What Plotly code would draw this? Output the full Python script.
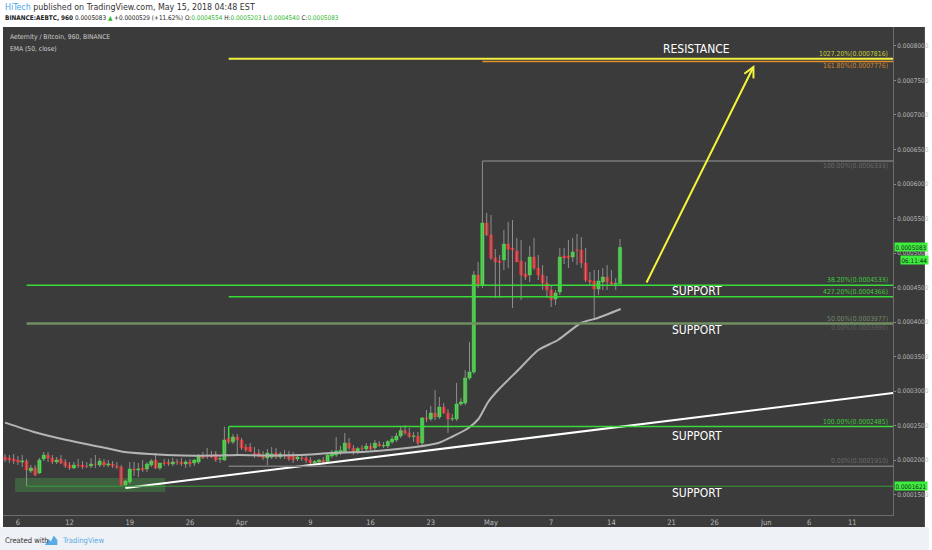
import plotly.graph_objects as go
import pandas as pd

# ---------------- data ----------------
bar_times = pd.date_range('2018-03-04 12:00', periods=144, freq='12h')

opens = [0.0002044,0.0002030,0.0002015,0.0002001,0.0001972,0.0001986,0.0001842,0.0001885,0.0001813,0.0002015,
         0.0002073,0.0002030,0.0001972,0.0002015,0.0001972,0.0001928,0.0001885,0.0001928,0.0001928,0.0001914,
         0.0001914,0.0001943,0.0001928,0.0001972,0.0001928,0.0001943,0.0001914,0.0001899,0.0001639,0.0001682,
         0.0001870,0.0001856,0.0001885,0.0001870,0.0001928,0.0002001,0.0001885,0.0001957,0.0001972,0.0001943,
         0.0001972,0.0001972,0.0001943,0.0001972,0.0001957,0.0001972,0.0002059,0.0002059,0.0002073,0.0002088,
         0.0002015,0.0002001,0.0002320,0.0002262,0.0002334,0.0002291,0.0002189,0.0002189,0.0002102,0.0002102,
         0.0002073,0.0002030,0.0002044,0.0002102,0.0002044,0.0002073,0.0002073,0.0002059,0.0002015,0.0002030,
         0.0002030,0.0002001,0.0001957,0.0001972,0.0002001,0.0001979,0.0002059,0.0002073,0.0002102,0.0002124,
         0.0002247,0.0002175,0.0002117,0.0002175,0.0002160,0.0002204,0.0002175,0.0002233,0.0002204,0.0002204,
         0.0002262,0.0002291,0.0002349,0.0002428,0.0002392,0.0002342,0.0002349,0.0002247,0.0002610,0.0002595,
         0.0002682,0.0002624,0.0002769,0.0002682,0.0002595,0.0002595,0.0002813,0.0002827,0.0003189,0.0003276,
         0.0004682,0.0004537,0.0005435,0.0005261,0.0004928,0.0004885,0.0004899,0.0005131,0.0005073,0.0005030,
         0.0004885,0.0004696,0.0004682,0.0004943,0.0004783,0.0004682,0.0004566,0.0004464,0.0004334,0.0004435,
         0.0004957,0.0004957,0.0004942,0.0005044,0.0005044,0.0004855,0.0004609,0.0004595,0.0004479,0.0004580,
         0.0004653,0.0004580,0.0004551,0.0004554]
highs = [0.0002088,0.0002073,0.0002088,0.0002059,0.0002073,0.0002015,0.0001928,0.0001928,0.0002030,0.0002117,
         0.0002117,0.0002073,0.0002044,0.0002073,0.0002015,0.0001972,0.0001972,0.0002015,0.0001986,0.0001972,
         0.0002030,0.0002073,0.0002030,0.0002015,0.0002001,0.0001986,0.0001972,0.0001928,0.0001711,0.0001972,
         0.0001972,0.0001957,0.0002001,0.0001972,0.0002015,0.0002102,0.0001957,0.0002015,0.0002015,0.0002030,
         0.0002015,0.0002030,0.0002001,0.0002015,0.0002015,0.0002088,0.0002117,0.0002175,0.0002131,0.0002131,
         0.0002059,0.0002485,0.0002392,0.0002378,0.0002378,0.0002320,0.0002233,0.0002247,0.0002189,0.0002160,
         0.0002131,0.0002160,0.0002189,0.0002175,0.0002117,0.0002146,0.0002131,0.0002117,0.0002073,0.0002073,
         0.0002073,0.0002044,0.0002001,0.0002015,0.0002044,0.0002102,0.0002146,0.0002334,0.0002204,0.0002392,
         0.0002320,0.0002218,0.0002189,0.0002218,0.0002247,0.0002247,0.0002291,0.0002276,0.0002262,0.0002291,
         0.0002349,0.0002392,0.0002479,0.0002508,0.0002465,0.0002407,0.0002407,0.0002624,0.0002726,0.0002784,
         0.0003015,0.0002914,0.0002827,0.0002740,0.0002668,0.0003117,0.0002899,0.0003305,0.0003711,0.0004740,
         0.0004870,0.0006333,0.0005580,0.0005551,0.0005058,0.0004971,0.0005334,0.0005450,0.0005479,0.0005218,
         0.0005189,0.0004870,0.0005102,0.0005218,0.0004971,0.0004826,0.0004667,0.0004537,0.0004464,0.0005073,
         0.0005073,0.0005189,0.0005218,0.0005276,0.0005232,0.0005073,0.0004725,0.0004754,0.0004754,0.0004783,
         0.0004826,0.0004754,0.0004638,0.0005203]
lows = [0.0001972,0.0001957,0.0001943,0.0001928,0.0001899,0.0001621,0.0001813,0.0001769,0.0001798,0.0001986,
        0.0001972,0.0001943,0.0001943,0.0001943,0.0001885,0.0001856,0.0001870,0.0001885,0.0001870,0.0001885,
        0.0001885,0.0001885,0.0001899,0.0001899,0.0001899,0.0001885,0.0001870,0.0001625,0.0001596,0.0001653,
        0.0001769,0.0001755,0.0001827,0.0001827,0.0001899,0.0001870,0.0001856,0.0001914,0.0001914,0.0001914,
        0.0001928,0.0001914,0.0001885,0.0001899,0.0001914,0.0001943,0.0002015,0.0002015,0.0002030,0.0001972,
        0.0001957,0.0001986,0.0002233,0.0002233,0.0002059,0.0002146,0.0002117,0.0002117,0.0002030,0.0002044,
        0.0002001,0.0001928,0.0002015,0.0002015,0.0002015,0.0002015,0.0001986,0.0001957,0.0001986,0.0001986,
        0.0001957,0.0001928,0.0001928,0.0001943,0.0001957,0.0001957,0.0002030,0.0002044,0.0002073,0.0002102,
        0.0002146,0.0002073,0.0002088,0.0002131,0.0002131,0.0002146,0.0002146,0.0002189,0.0002175,0.0002175,
        0.0002233,0.0002262,0.0002320,0.0002364,0.0002320,0.0002262,0.0002218,0.0002218,0.0002552,0.0002566,
        0.0002581,0.0002595,0.0002668,0.0002392,0.0002566,0.0002566,0.0002784,0.0002798,0.0003160,0.0003247,
        0.0004493,0.0004493,0.0005247,0.0004899,0.0004348,0.0004348,0.0004754,0.0004783,0.0004203,0.0004870,
        0.0004319,0.0004609,0.0004580,0.0004754,0.0004609,0.0004464,0.0004348,0.0004218,0.0004247,0.0004392,
        0.0004841,0.0004783,0.0004870,0.0004826,0.0004783,0.0004580,0.0004537,0.0004059,0.0004393,0.0004464,
        0.0004464,0.0004522,0.0004464,0.0004540]
closes = [0.0002001,0.0002001,0.0001986,0.0001972,0.0001986,0.0001856,0.0001885,0.0001784,0.0002001,0.0002073,
          0.0002030,0.0001972,0.0002001,0.0001957,0.0001914,0.0001885,0.0001928,0.0001921,0.0001899,0.0001910,
          0.0001943,0.0001940,0.0001986,0.0001928,0.0001943,0.0001914,0.0001899,0.0001639,0.0001697,0.0001870,
          0.0001856,0.0001870,0.0001856,0.0001943,0.0001986,0.0001885,0.0001957,0.0001955,0.0001943,0.0001972,
          0.0001970,0.0001943,0.0001972,0.0001943,0.0002001,0.0002059,0.0002030,0.0002055,0.0002044,0.0002001,
          0.0002020,0.0002291,0.0002262,0.0002334,0.0002291,0.0002175,0.0002146,0.0002124,0.0002098,0.0002052,
          0.0002030,0.0002102,0.0002088,0.0002044,0.0002088,0.0002070,0.0002015,0.0002001,0.0002044,0.0002027,
          0.0001994,0.0001957,0.0001979,0.0002001,0.0001972,0.0002073,0.0002117,0.0002131,0.0002139,0.0002247,
          0.0002175,0.0002110,0.0002168,0.0002170,0.0002204,0.0002160,0.0002247,0.0002204,0.0002211,0.0002269,
          0.0002305,0.0002349,0.0002428,0.0002392,0.0002342,0.0002349,0.0002247,0.0002610,0.0002595,0.0002682,
          0.0002624,0.0002769,0.0002682,0.0002595,0.0002600,0.0002813,0.0002841,0.0003189,0.0003276,0.0004682,
          0.0004537,0.0005435,0.0005261,0.0004928,0.0004870,0.0004863,0.0005131,0.0005058,0.0005044,0.0004870,
          0.0004682,0.0004652,0.0004942,0.0004783,0.0004682,0.0004566,0.0004464,0.0004320,0.0004421,0.0004942,
          0.0004928,0.0004928,0.0005015,0.0005040,0.0004855,0.0004609,0.0004580,0.0004479,0.0004595,0.0004653,
          0.0004580,0.0004551,0.0004558,0.0005083]

ema_times = ['2018-03-04 12:00','2018-03-07 18:00','2018-03-11 16:00','2018-03-15 12:00','2018-03-18 04:00',
             '2018-03-21 07:00','2018-03-25 03:00','2018-03-29 01:00','2018-03-31 17:00','2018-04-04 05:00',
             '2018-04-07 16:00','2018-04-11 12:00','2018-04-15 10:00','2018-04-21 05:00','2018-04-23 21:00',
             '2018-04-25 10:00','2018-04-27 09:00','2018-04-28 13:00','2018-04-29 16:00','2018-04-30 20:00',
             '2018-05-03 04:00','2018-05-05 12:00','2018-05-07 19:00','2018-05-10 11:00','2018-05-12 10:00',
             '2018-05-15 02:00']
ema_values = [0.0002542,0.0002411,0.0002291,0.0002194,0.0002121,0.0002088,0.0002066,0.0002066,0.0002073,0.0002066,
              0.0002073,0.0002102,0.0002121,0.0002189,0.0002247,0.0002334,0.0002465,0.0002595,0.0002842,0.0003015,
              0.0003305,0.0003595,0.0003740,0.0003986,0.0004059,0.0004189]

price_ticks = [0.00015,0.0002,0.00025,0.0003,0.00035,0.0004,0.00045,0.0005,0.00055,0.0006,
               0.00065,0.0007,0.00075,0.0008]
date_ticks = ['2018-03-06','2018-03-12','2018-03-19','2018-03-26','2018-04-01','2018-04-09','2018-04-16',
              '2018-04-23','2018-04-30','2018-05-07','2018-05-14','2018-05-21','2018-05-26','2018-06-01',
              '2018-06-06','2018-06-11']
date_labels = ['6','12','19','26','Apr','9','16','23','May','7','14','21','26','Jun','6','11']

level_prices = [0.0007816,0.0007776,0.0006333,0.0004533,0.0004366,0.0003977,0.0002485,0.0001910,0.0001621]
level_starts = ['2018-03-30 12:00','2018-04-29 00:00','2018-04-29 00:00','2018-03-07 00:00','2018-03-30 12:00',
                '2018-03-07 00:00','2018-03-30 12:00','2018-03-30 12:00','2018-03-07 00:00']
level_labels = ['1027.20%(0.0007816)','161.80%(0.0007776)','100.00%(0.0006333)','38.20%(0.0004533)',
                '427.20%(0.0004366)','50.00%(0.0003977)','100.00%(0.0002485)','0.00%(0.0001910)','']
extra_label = '0.00%(0.0003890)'

trend_times = ['2018-03-18 12:00','2018-06-15 18:00']
trend_prices = [0.0001596,0.0002972]
arrow_times = ['2018-05-18 00:00','2018-05-30 15:00']
arrow_prices = [0.0004551,0.0007725]
zone_times = ['2018-03-05 16:00','2018-03-23 03:00']
zone_prices = [0.0001537,0.0001740]
region_labels = ['RESISTANCE','SUPPORT','SUPPORT','SUPPORT','SUPPORT']
region_prices = [0.0007956,0.0004450,0.0003885,0.0002349,0.0001523]
last_price = 0.0005083
countdown = '06:11:44'

# ---------------- styles ----------------
W, H = 932, 550
LM, RM, TM, BM = 3, 36, 27, 35
PW, PH = W - LM - RM, H - TM - BM
def px_x(px): return (px - LM) / PW
def px_y(py): return (H - BM - py) / PH

NARROW = "'Liberation Sans Narrow', 'DejaVu Sans Condensed', 'Liberation Sans', Arial, sans-serif"
DARK = '#3b3b3b'
UP, DOWN, WICK = '#3ce83c', '#e8262c', '#8e8e8e'
AXIS_TXT = '#b8b8b8'

level_colors = ['#f0f040','#e0902a','#7a7a7a','#38dc38','#38dc38','#6f8f62','#38dc38','#7a7a7a','#3a9c3a']
level_widths = [2, 1.5, 1.5, 1.5, 1.5, 2.5, 1.5, 1.5, 1]
label_colors = ['#c8cc3c','#d08a2c','#6a6a6a','#3cc83c','#3cc83c','#6f8a66','#3cc83c','#6a6a6a','#000']
label_shift = [5, -5, -5, 5, 5, 5, 5, 5, 0]

body_hi = [max(o, c) for o, c in zip(opens, closes)]
body_lo = [min(o, c) for o, c in zip(opens, closes)]

fig = go.Figure()
fig.add_trace(go.Ohlc(x=bar_times, open=opens, high=highs, low=lows, close=closes, tickwidth=0,
                      increasing=dict(line=dict(color=WICK, width=1)),
                      decreasing=dict(line=dict(color=WICK, width=1)),
                      showlegend=False, hoverinfo='skip'))
fig.add_trace(go.Candlestick(x=bar_times, open=opens, high=body_hi, low=body_lo, close=closes,
                             increasing=dict(line=dict(color=UP, width=0.5), fillcolor=UP),
                             decreasing=dict(line=dict(color=DOWN, width=0.5), fillcolor=DOWN),
                             whiskerwidth=0, showlegend=False, hoverinfo='skip'))
fig.add_trace(go.Scatter(x=ema_times, y=ema_values, mode='lines',
                         line=dict(color='#b4b4b4', width=2, shape='spline', smoothing=0.6),
                         showlegend=False, hoverinfo='skip'))
fig.add_trace(go.Scatter(x=trend_times, y=trend_prices, mode='lines', line=dict(color='#ffffff', width=2),
                         showlegend=False, hoverinfo='skip'))

shapes = []
shapes.append(dict(type='rect', xref='paper', yref='paper', x0=px_x(3), x1=px_x(928), y0=px_y(527), y1=px_y(27),
                   fillcolor=DARK, line=dict(width=0), layer='below'))
shapes.append(dict(type='rect', xref='paper', yref='paper', x0=px_x(0), x1=px_x(932), y0=px_y(550), y1=px_y(527),
                   fillcolor='#eef1f5', line=dict(width=0), layer='below'))
shapes.append(dict(type='rect', xref='x', yref='y', x0=zone_times[0], x1=zone_times[1], y0=zone_prices[0], y1=zone_prices[1],
                   fillcolor='rgba(70,160,70,0.38)', line=dict(width=0), layer='below'))
for p, s, c, w in zip(level_prices, level_starts, level_colors, level_widths):
    shapes.append(dict(type='line', xref='x', yref='y', x0=s, x1='2018-07-10', y0=p, y1=p,
                       line=dict(color=c, width=w), layer='above'))
shapes.append(dict(type='line', xref='x', yref='y', x0=level_starts[6], x1=level_starts[6], y0=level_prices[6], y1=0.0002320,
                   line=dict(color='#38dc38', width=1.5)))
lx = [45, 48.5, 51, 54, 57.5, 57.5, 45]
ly = [545, 539, 541.5, 535.5, 540, 545, 545]
path = 'M ' + ' L '.join(f'{px_x(a):.5f},{px_y(b):.5f}' for a, b in zip(lx, ly)) + ' Z'
shapes.append(dict(type='path', xref='paper', yref='paper', path=path, fillcolor='#5aaae6', line=dict(width=0)))

ann = []
for p, t, c, sh in zip(level_prices, level_labels, label_colors, label_shift):
    if t:
        ann.append(dict(xref='paper', yref='y', x=px_x(893), y=p, xanchor='right', yanchor='middle', yshift=sh,
                        text=t, showarrow=False, font=dict(family=NARROW, size=6.8, color=c)))
ann.append(dict(xref='paper', yref='y', x=px_x(893), y=level_prices[5], xanchor='right', yanchor='middle', yshift=-4,
                text=extra_label, showarrow=False, font=dict(family=NARROW, size=6.8, color='#5c5c5c')))
for t, p in zip(region_labels, region_prices):
    ann.append(dict(xref='paper', yref='y', x=px_x(699), y=p, xanchor='center', yanchor='middle', text=t,
                    showarrow=False, font=dict(family=NARROW, size=12, color='#ffffff')))
ann.append(dict(xref='x', yref='y', axref='x', ayref='y', x=arrow_times[1], y=arrow_prices[1],
                ax=arrow_times[0], ay=arrow_prices[0], text='', showarrow=True, arrowhead=5, arrowsize=1,
                arrowwidth=2, arrowcolor='#f5f53a'))
ann.append(dict(xref='paper', yref='y', x=px_x(897), y=last_price, xanchor='left', yanchor='middle',
                text=f'{last_price:.7f}', showarrow=False, bgcolor='#3ef03e', borderpad=0.5,
                font=dict(family=NARROW, size=6.3, color='#1a1a1a')))
ann.append(dict(xref='paper', yref='y', x=px_x(903), y=last_price, xanchor='left', yanchor='middle', yshift=-12.5,
                text=countdown, showarrow=False, bgcolor='#3ef03e', borderpad=0.5,
                font=dict(family=NARROW, size=6.3, color='#1a1a1a')))
ann.append(dict(xref='paper', yref='y', x=px_x(897), y=level_prices[8], xanchor='left', yanchor='middle',
                text=f'{level_prices[8]:.7f}', showarrow=False, bgcolor='#3ef03e', borderpad=0.5,
                font=dict(family=NARROW, size=6.3, color='#1a1a1a')))
ann.append(dict(xref='paper', yref='paper', x=px_x(8), y=px_y(37), xanchor='left', yanchor='middle',
                text='Aeternity / Bitcoin, 960, BINANCE', showarrow=False,
                font=dict(family=NARROW, size=6.7, color='#cfcfcf')))
ann.append(dict(xref='paper', yref='paper', x=px_x(8), y=px_y(49), xanchor='left', yanchor='middle',
                text='EMA (50, close)', showarrow=False, font=dict(family=NARROW, size=6.7, color='#cfcfcf')))
ann.append(dict(xref='paper', yref='paper', x=px_x(3), y=px_y(7), xanchor='left', yanchor='middle',
                text="<span style='color:#3fa4e8'>HiTech</span> published on TradingView.com, May 15, 2018 04:48 EST",
                showarrow=False, font=dict(family=NARROW, size=8.8, color='#333333')))
G = '#2eb82e'
hdr2 = ("<b>BINANCE:AEBTC, 960</b> 0.0005083 <span style='color:%s'>▲</span> +0.0000529 (+11.62%%) "
        "O:<span style='color:%s'>0.0004554</span> H:<span style='color:%s'>0.0005203</span> "
        "L:<span style='color:%s'>0.0004540</span> C:<span style='color:%s'>0.0005083</span>") % (G, G, G, G, G)
ann.append(dict(xref='paper', yref='paper', x=px_x(3), y=px_y(18), xanchor='left', yanchor='middle',
                text=hdr2, showarrow=False, font=dict(family=NARROW, size=6.4, color='#222222')))
ann.append(dict(xref='paper', yref='paper', x=px_x(3), y=px_y(540), xanchor='left', yanchor='middle',
                text='Created with', showarrow=False, font=dict(family=NARROW, size=7.6, color='#333333')))
ann.append(dict(xref='paper', yref='paper', x=px_x(60), y=px_y(540), xanchor='left', yanchor='middle',
                text='TradingView', showarrow=False, font=dict(family=NARROW, size=7.6, color='#5aaae6')))

fig.update_layout(
    width=W, height=H, margin=dict(l=LM, r=RM, t=TM, b=BM),
    paper_bgcolor='#ffffff', plot_bgcolor=DARK,
    boxgap=0.25, boxgroupgap=0,
    shapes=shapes, annotations=ann, showlegend=False,
    xaxis=dict(type='date', range=['2018-03-04 06:17', '2018-06-15 17:45'], rangeslider=dict(visible=False),
               showgrid=False, zeroline=False, showline=True, linecolor='#6c6c6c', linewidth=1,
               tickvals=date_ticks, ticktext=date_labels, ticks='',
               tickfont=dict(family=NARROW, size=7.5, color=AXIS_TXT)),
    yaxis=dict(range=[0.0001204, 0.0008275], side='right', showgrid=False, zeroline=False,
               showline=True, linecolor='#6c6c6c', linewidth=1, ticks='outside', ticklen=2, tickcolor='#8a8a8a',
               tickvals=price_ticks, tickformat='.7f',
               tickfont=dict(family=NARROW, size=6.4, color=AXIS_TXT)),
)
fig.write_html('out.html', config={'displayModeBar': False},
               post_script="document.body.style.margin='0';document.body.style.padding='0';document.body.style.overflow='hidden';")
